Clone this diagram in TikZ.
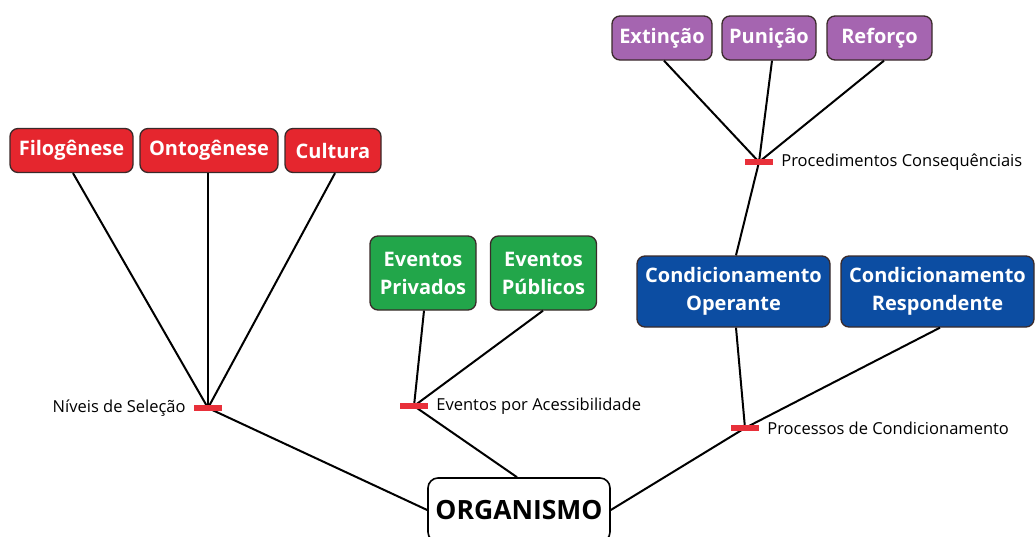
\documentclass[tikz,border=0pt]{standalone}
\usepackage{fontspec}
\setmainfont{Open Sans}
\definecolor{cred}{HTML}{E5262E}
\definecolor{cgreen}{HTML}{22A64A}
\definecolor{cpurple}{HTML}{A565B0}
\definecolor{cblue}{HTML}{0C4DA2}
\definecolor{cbar}{HTML}{E8303A}
\definecolor{cborder}{HTML}{3A2A2A}
\tikzset{
  box/.style={draw=cborder, line width=1.3pt, rounded corners=8pt, text=white,
    font=\fontsize{20}{28}\selectfont\bfseries, align=center, inner sep=0pt},
  redbox/.style={box, fill=cred, minimum height=44pt},
  greenbox/.style={box, fill=cgreen, minimum height=74pt, minimum width=106pt},
  purplebox/.style={box, fill=cpurple, minimum height=44pt},
  bluebox/.style={box, fill=cblue, minimum height=71pt, minimum width=193pt},
  orgbox/.style={draw=black, fill=white, line width=1.6pt, rounded corners=10pt,
    font=\fontsize{26.5}{30}\selectfont\bfseries, minimum width=182pt, minimum height=64pt, inner sep=0pt},
  conn/.style={draw=black, line width=2pt},
  bar/.style={fill=cbar, minimum width=28pt, minimum height=6pt, inner sep=0pt},
  lab/.style={font=\fontsize{16.5}{20}\selectfont, inner sep=0pt}
}
\begin{document}
\begin{tikzpicture}[x=1pt,y=-1pt]
\useasboundingbox (0,0) rectangle (1036,536);
% boxes
\node[redbox, minimum width=123pt] (filo) at (71.5,150.5) {Filogênese};
\node[redbox, minimum width=138pt] (onto) at (209,150.5) {Ontogênese};
\node[redbox, minimum width=96pt] (cult) at (333,150.5) {Cultura};
\node[greenbox] (priv) at (423,273) {Eventos\\Privados};
\node[greenbox] (publ) at (543.5,273) {Eventos\\Públicos};
\node[purplebox, minimum width=100pt] (ext) at (662,38) {Extinção};
\node[purplebox, minimum width=94pt] (pun) at (769,38) {Punição};
\node[purplebox, minimum width=105pt] (ref) at (879.5,38) {Reforço};
\node[bluebox] (oper) at (733.5,291.5) {Condicionamento\\Operante};
\node[bluebox] (resp) at (937.5,291.5) {Condicionamento\\Respondente};
\node[orgbox] (org) at (519,510) {ORGANISMO};
% junctions
\coordinate (jn) at (208,408);
\coordinate (je) at (414,406);
\coordinate (jc) at (759,162);
\coordinate (jp) at (745,428);
% connectors
\draw[conn] (filo.south -| 73,0) -- (jn);
\draw[conn] (onto.south -| 208,0) -- (jn);
\draw[conn] (cult.south -| 335,0) -- (jn);
\draw[conn] (jn) -- (org.west);
\draw[conn] (priv.south -| 424,0) -- (je);
\draw[conn] (publ.south -| 543,0) -- (je);
\draw[conn] (je) -- (org.north -| 517,0);
\draw[conn] (ext.south -| 664,0) -- (jc);
\draw[conn] (pun.south -| 772,0) -- (jc);
\draw[conn] (ref.south -| 884,0) -- (jc);
\draw[conn] (jc) -- (oper.north -| 736,0);
\draw[conn] (oper.south -| 736,0) -- (jp);
\draw[conn] (resp.south -| 940,0) -- (jp);
\draw[conn] (jp) -- (org.east);
% bars and labels
\node[bar] (bn) at (jn) {};
\node[bar] (be) at (je) {};
\node[bar] (bc) at (jc) {};
\node[bar] (bp) at (jp) {};
\node[lab, anchor=east] (ln) at ([xshift=-8pt]bn.west) {Níveis de Seleção};
\node[lab, anchor=west] (le) at ([xshift=8pt]be.east) {Eventos por Acessibilidade};
\node[lab, anchor=west] (lc) at ([xshift=8pt]bc.east) {Procedimentos Consequênciais};
\node[lab, anchor=west] (lp) at ([xshift=8pt]bp.east) {Processos de Condicionamento};
\end{tikzpicture}
\end{document}
